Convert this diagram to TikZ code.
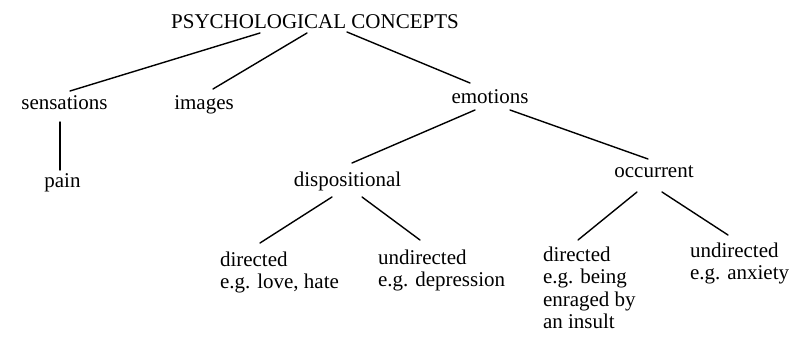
\documentclass[tikz,border=0pt]{standalone}
\usepackage{fontspec}
\setmainfont{Liberation Serif}
\usetikzlibrary{calc}
\begin{document}
\begin{tikzpicture}[x=1pt,y=-1pt,
  lbl/.style={inner sep=0pt, outer sep=0pt, font=\fontsize{21}{22.5}\selectfont},
  single/.style={lbl, anchor=base},
  multi/.style={lbl, anchor=north west, align=left},
  edge/.style={line width=1.4pt, line cap=round}]
\useasboundingbox (0,0) rectangle (807,345);
% nodes
\node[single] (root) at (315,29) {PSYCHOLOGICAL CONCEPTS};
\node[single] (sens) at (64.5,110) {sensations};
\node[single] (imgs) at (204,110) {images};
\node[single] (emo) at (490,103) {emotions};
\node[single] (pain) at (62.5,187) {pain};
\node[single] (disp) at (347.5,186) {dispositional};
\node[single] (occ) at (654,178) {occurrent};
\node[multi] (dirL) at (220,250.25) {\strut directed\\e.g. love, hate};
\node[multi] (undirL) at (378,248.25) {\strut undirected\\e.g. depression};
\node[multi] (dirR) at (543,245.25) {\strut directed\\e.g. being\\enraged by\\an insult};
\node[multi] (undirR) at (690,241.25) {\strut undirected\\e.g. anxiety};
% connectors
\draw[edge] ($(root.base)+(-55,4)$) -- ($(sens.base)+(5.5,-19)$);
\draw[edge] ($(root.base)+(-8,4)$) -- ($(imgs.base)+(9,-21)$);
\draw[edge] ($(root.base)+(32,3)$) -- ($(emo.base)+(-20,-20)$);
\draw[edge] ($(sens.base)+(-4.5,12)$) -- ($(pain.base)+(-2.5,-17)$);
\draw[edge] ($(emo.base)+(-15,7)$) -- ($(disp.base)+(4.5,-23)$);
\draw[edge] ($(emo.base)+(20,7)$) -- ($(occ.base)+(-6,-19)$);
\draw[edge] ($(disp.base)+(-15.5,11)$) -- ($(dirL.north west)+(40,-7.25)$);
\draw[edge] ($(disp.base)+(14.5,11)$) -- ($(undirL.north west)+(42,-8.25)$);
\draw[edge] ($(occ.base)+(-17,14)$) -- ($(dirR.north west)+(35,-5.25)$);
\draw[edge] ($(occ.base)+(8,14)$) -- ($(undirR.north west)+(38,-6.25)$);
\end{tikzpicture}
\end{document}
